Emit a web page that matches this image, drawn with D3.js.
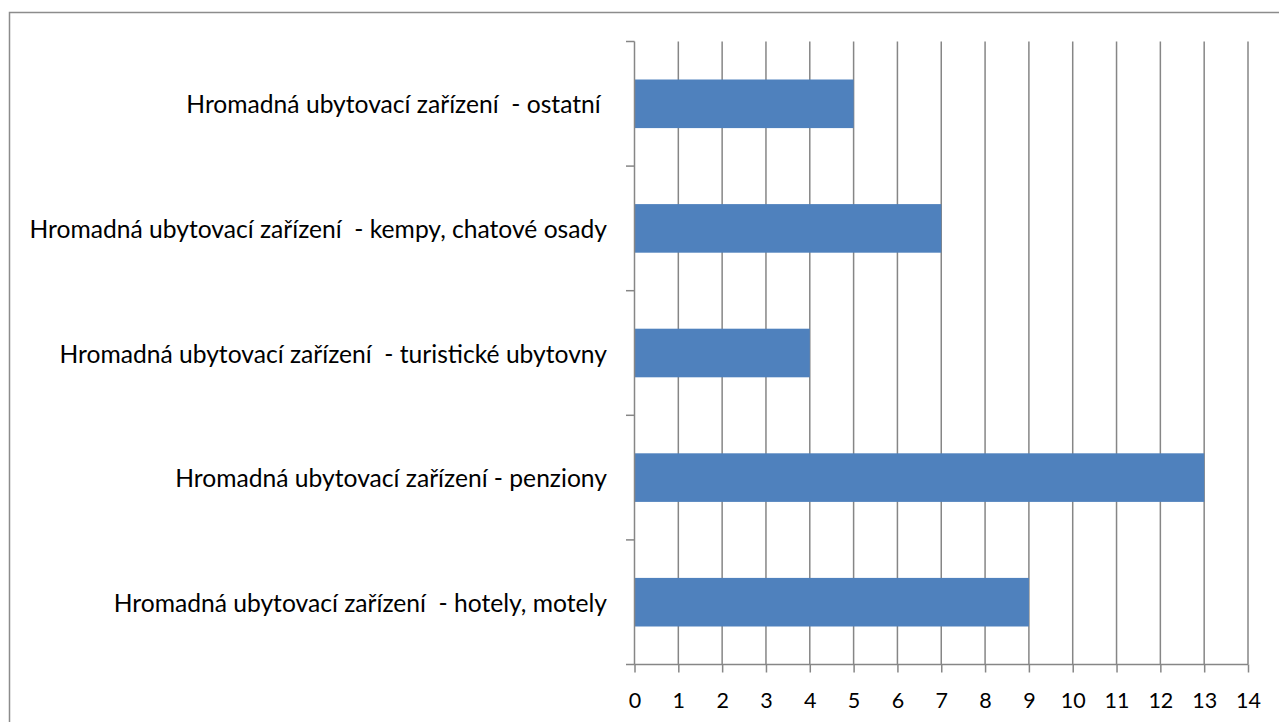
<!DOCTYPE html>
<html><head><meta charset="utf-8">
<script src="https://cdn.jsdelivr.net/npm/d3@7"></script>
<style>body{margin:0;background:#fff}svg{display:block}</style>
</head><body>
<svg id="c" width="1279" height="722"></svg>
<script>
const categories = [
  "Hromadná ubytovací zařízení  - ostatní ",
  "Hromadná ubytovací zařízení  - kempy, chatové osady",
  "Hromadná ubytovací zařízení  - turistické ubytovny",
  "Hromadná ubytovací zařízení - penziony",
  "Hromadná ubytovací zařízení  - hotely, motely"
];
const values = [5, 7, 4, 13, 9];
const xTicks = [0,1,2,3,4,5,6,7,8,9,10,11,12,13,14];

const svg = d3.select("#c");
const FONT = "Lato, 'Open Sans', sans-serif";
const gridCol = "#868686";

svg.append("rect").attr("x",9.5).attr("y",12.5).attr("width",1400).attr("height",900)
  .attr("fill","none").attr("stroke","#8c8c8c").attr("stroke-width",1.5);

const x = d3.scaleLinear().domain([0,14]).range([634.5,1248]);
const y = d3.scaleBand().domain(categories).range([41.5,664.5]).paddingInner(0.61).paddingOuter(0.305);
const yEdges = d3.range(categories.length+1).map(i => 41.5 + i*(664.5-41.5)/categories.length);

// gridlines
svg.append("g").selectAll("line").data(xTicks.slice(1)).join("line")
  .attr("x1",d=>x(d)).attr("x2",d=>x(d)).attr("y1",41.5).attr("y2",664.5)
  .attr("stroke",gridCol).attr("stroke-width",1.5);

// bars
svg.append("g").selectAll("rect").data(values).join("rect")
  .attr("x",x(0)).attr("y",(d,i)=>y(categories[i]))
  .attr("width",d=>x(d)-x(0)).attr("height",y.bandwidth())
  .attr("fill","#4F81BD");

// x axis
const xa = svg.append("g").attr("transform","translate(0,664.5)")
  .call(d3.axisBottom(x).tickValues(xTicks).tickSize(8).tickPadding(20).tickFormat(d3.format("d")));
xa.select(".domain").attr("stroke",gridCol).attr("stroke-width",1.5).attr("d","M634.5,0H1248");
xa.selectAll(".tick line").attr("stroke",gridCol).attr("stroke-width",1.5);
xa.selectAll(".tick text").attr("font-family",FONT).attr("font-size",21.5).attr("fill","#000");

// y axis line + tick marks at band edges
svg.append("line").attr("x1",634.5).attr("x2",634.5).attr("y1",41.5).attr("y2",664.5)
  .attr("stroke",gridCol).attr("stroke-width",1.5);
svg.append("g").selectAll("line").data(yEdges).join("line")
  .attr("x1",626).attr("x2",634.5).attr("y1",d=>d).attr("y2",d=>d)
  .attr("stroke",gridCol).attr("stroke-width",1.5);

// labels
const lab = svg.append("g").selectAll("text").data(categories).join("text")
  .attr("x",607).attr("y",d=>y(d)+y.bandwidth()/2)
  .attr("text-anchor","end").attr("dominant-baseline","central")
  .style("white-space","pre")
  .attr("font-family",FONT).attr("font-size",21).attr("fill","#000")
  .text(d=>d);
// fit font size so the longest label spans like the reference
const longest = lab.filter((d,i)=>i===1).node();
const w = longest.getComputedTextLength();
const fs = 21*578/w;
lab.attr("font-size",fs);
</script>
</body></html>
